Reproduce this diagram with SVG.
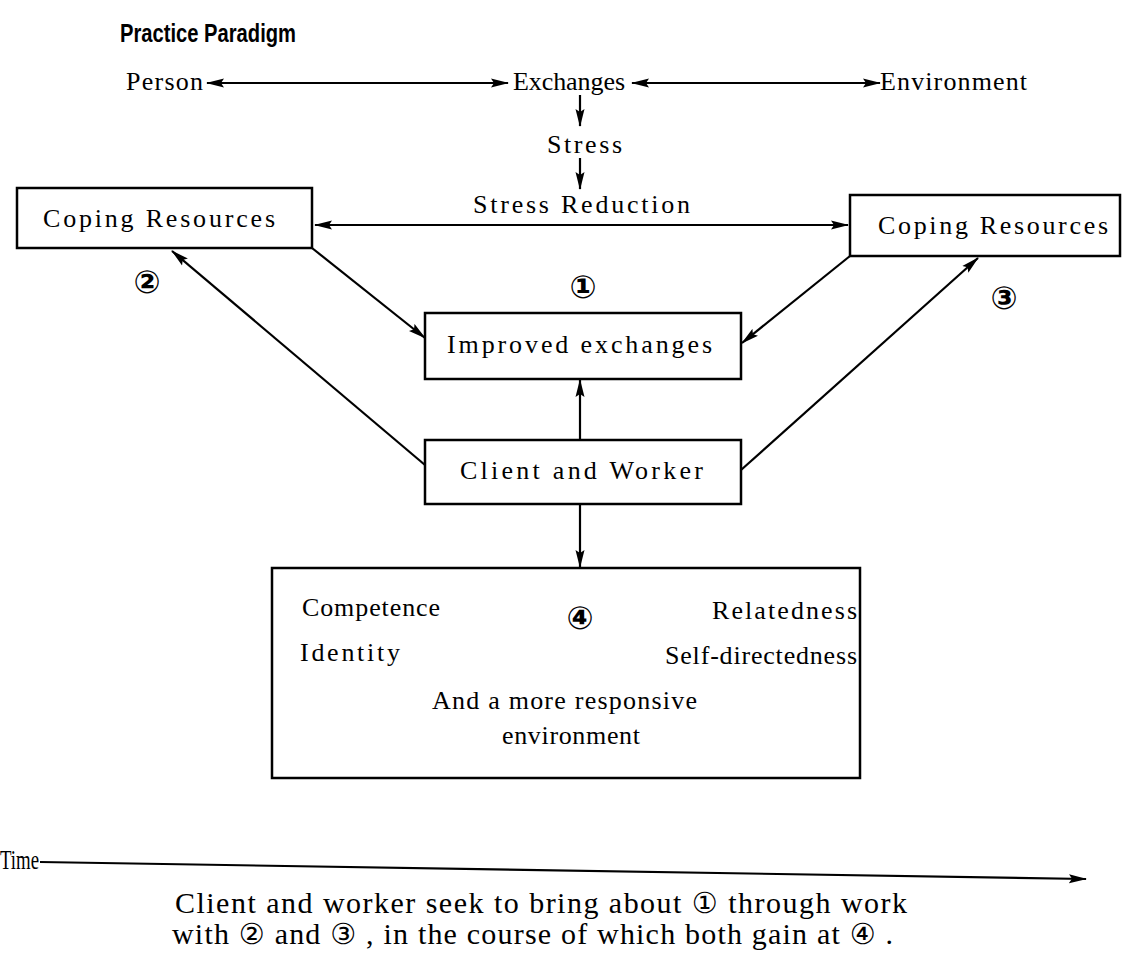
<svg xmlns="http://www.w3.org/2000/svg" width="1133" height="960" viewBox="0 0 1133 960">
<defs>
<marker id="ah" viewBox="0 0 18 10" refX="17" refY="5" markerWidth="18" markerHeight="10" markerUnits="userSpaceOnUse" orient="auto-start-reverse">
<path d="M0,0.5 L18,5 L0,9.5 L3,5 z" fill="#000"/>
</marker>
</defs>
<style>
.t{font-family:"Liberation Serif","Times New Roman",serif;font-size:26px;fill:#000}
.b{font-family:"Liberation Sans",Arial,sans-serif;font-size:26px;font-weight:bold;fill:#000}
.n{font-family:"DejaVu Sans",sans-serif;font-size:32px;fill:#000;font-weight:bold}
.cn{font-family:"DejaVu Sans",sans-serif;font-size:29px}
.s{font-family:"Liberation Serif","Times New Roman",serif;font-size:30px;fill:#000}
.box{fill:#fff;stroke:#000;stroke-width:2.5}
.c{stroke:#000;stroke-width:2.2;fill:none}
.a2{marker-start:url(#ah);marker-end:url(#ah)}
.a1{marker-end:url(#ah)}
</style>
<rect width="1133" height="960" fill="#fff"/>
<g id="connectors">
<line class="c a2" x1="207" y1="83" x2="508" y2="83"/>
<line class="c a2" x1="632" y1="83" x2="880" y2="83"/>
<line class="c a1" x1="580" y1="95" x2="580" y2="126"/>
<line class="c a1" x1="580" y1="158" x2="580" y2="189"/>
<line class="c a2" x1="315" y1="225" x2="848" y2="225"/>
<line class="c a1" x1="312" y1="248" x2="425" y2="338"/>
<line class="c a1" x1="850" y1="256" x2="742" y2="343"/>
<line class="c a1" x1="425" y1="465" x2="172" y2="251"/>
<line class="c a1" x1="741" y1="470" x2="978" y2="258"/>
<line class="c a1" x1="580" y1="440" x2="580" y2="380"/>
<line class="c a1" x1="580" y1="504" x2="580" y2="567"/>
<line class="c a1" x1="40" y1="862" x2="1086" y2="879"/>
</g>
<g id="title"><text class="b" x="120" y="42" textLength="176" lengthAdjust="spacingAndGlyphs">Practice Paradigm</text></g>
<g id="person"><text class="t" x="126" y="90" textLength="77">Person</text></g>
<g id="exchanges"><text class="t" x="513" y="90" textLength="112">Exchanges</text></g>
<g id="environment"><text class="t" x="880" y="90" textLength="147">Environment</text></g>
<g id="stress"><text class="t" x="547" y="153" textLength="75">Stress</text></g>
<g id="stress-reduction"><text class="t" x="473" y="213" textLength="217">Stress Reduction</text></g>
<g id="coping-left"><rect class="box" x="17" y="188" width="295" height="60"/><text class="t" x="43" y="227" textLength="232">Coping Resources</text></g>
<g id="coping-right"><rect class="box" x="850" y="195" width="270" height="61"/><text class="t" x="878" y="234" textLength="230">Coping Resources</text></g>
<g id="label-2"><text class="n" x="147" y="293" text-anchor="middle">②</text></g>
<g id="label-1"><text class="n" x="583" y="298" text-anchor="middle">①</text></g>
<g id="label-3"><text class="n" x="1004" y="309" text-anchor="middle">③</text></g>
<g id="improved"><rect class="box" x="425" y="313" width="316" height="66"/><text class="t" x="447" y="353" textLength="265">Improved exchanges</text></g>
<g id="client"><rect class="box" x="425" y="440" width="316" height="64"/><text class="t" x="460" y="479" textLength="243">Client and Worker</text></g>
<g id="outcomes"><rect class="box" x="272" y="568" width="588" height="210"/>
<text class="t" x="302" y="616" textLength="138">Competence</text>
<text class="n" x="580" y="629" text-anchor="middle">④</text>
<text class="t" x="712" y="619" textLength="145">Relatedness</text>
<text class="t" x="300" y="661" textLength="100">Identity</text>
<text class="t" x="665" y="664" textLength="192">Self-directedness</text>
<text class="t" x="432" y="709" textLength="265">And a more responsive</text>
<text class="t" x="502" y="744" textLength="138">environment</text>
</g>
<g id="time"><text class="t" x="0" y="869" style="font-size:27px" textLength="39" lengthAdjust="spacingAndGlyphs">Time</text></g>
<g id="caption">
<text class="s" x="175" y="913" textLength="732">Client and worker seek to bring about <tspan class="cn">①</tspan> through work</text>
<text class="s" x="172" y="944" textLength="721">with <tspan class="cn">②</tspan> and <tspan class="cn">③</tspan> , in the course of which both gain at <tspan class="cn">④</tspan> .</text>
</g>
</svg>
